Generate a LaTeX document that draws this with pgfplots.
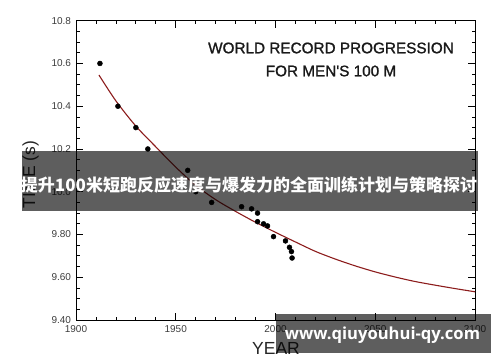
\documentclass[border=0pt]{standalone}
\usepackage{fontspec}
\setmainfont{Liberation Sans}
\newfontfamily\headfont[FakeBold=1.3]{Liberation Sans}
\newfontfamily\cjk{Noto Sans CJK SC}
\newfontfamily\wm{Open Sans}
\usepackage{pgfplots}
\pgfplotsset{compat=1.18}

\definecolor{curvered}{RGB}{140,28,28}
\definecolor{ticklab}{RGB}{60,60,60}

% world record times (year, seconds)
\pgfplotstableread{
year time
1912 10.60
1921 10.40
1930 10.30
1936 10.20
1956 10.10
1960 10.00
1968 9.95
1983 9.93
1988 9.92
1991 9.90
1991 9.86
1994 9.85
1996 9.84
1999 9.79
2005 9.77
2007 9.74
2008 9.72
2008.3 9.69
}\records

% fitted progression curve
\pgfplotstableread{
year time
1911.5 10.546
1920 10.425
1930 10.307
1940 10.210
1950 10.115
1960 10.030
1970 9.963
1980 9.908
1990 9.857
2000 9.810
2010 9.765
2020 9.721
2030 9.685
2040 9.653
2050 9.625
2060 9.601
2070 9.580
2080 9.563
2090 9.547
2100 9.532
}\fit

\begin{document}
\begin{tikzpicture}
\path[use as bounding box] (0,0) rectangle (500pt,362pt);
\begin{axis}[
  at={(76pt,42pt)}, anchor=south west,
  scale only axis, width=399pt, height=299.3pt,
  xmin=1900, xmax=2100, ymin=9.4, ymax=10.8,
  xtick={1900,1950,2000,2050,2100},
  xticklabels={1900,1950,2000,2050,2100},
  minor x tick num=4,
  ytick={9.4,9.6,9.8,10.0,10.2,10.4,10.6,10.8},
  yticklabels={9.40,9.60,9.80,10.0,10.2,10.4,10.6,10.8},
  minor y tick num=3,
  tick align=inside,
  xtick pos=both, ytick pos=both,
  xticklabel pos=lower, yticklabel pos=left,
  major tick length=7pt, minor tick length=3.5pt,
  every tick/.style={black, line width=0.8pt},
  axis line style={black, line width=1pt},
  ticklabel style={font=\fontsize{10}{12}\selectfont, text=ticklab},
  xticklabel style={yshift=-2pt},
  yticklabel style={xshift=-1.5pt},
  clip=false,
]
\addplot[curvered, line width=1.1pt, smooth, no marks] table[x=year, y=time] {\fit};
\addplot[only marks, mark=*, mark size=2.5pt, black] table[x=year, y=time] {\records};
\end{axis}

% axis titles
\node[font=\fontsize{17.5}{20}\selectfont, text=black!85, anchor=base] at (276pt,8pt) {YEAR};
\node[font=\fontsize{17.5}{20}\selectfont, text=black!85, rotate=90] at (30.5pt,187.5pt) {TIME (s)};

% chart heading
\node[align=center, font=\headfont\fontsize{15.3}{23}\selectfont, text=black!90] at (331pt,302.5pt)
  {WORLD RECORD PROGRESSION\\FOR MEN\textquotesingle S 100 M};

% caption band
\fill[black, opacity=0.63] (22pt,151.3pt) rectangle (478pt,211pt);
\node[text=white, font=\cjk\bfseries\fontsize{17}{20}\selectfont] at (249pt,177pt)
  {提升100米短跑反应速度与爆发力的全面训练计划与策略探讨};

% site band
\fill[black, opacity=0.63] (276pt,9.3pt) rectangle (491pt,47.7pt);
\node[text=white, font=\wm\bfseries\fontsize{16.6}{19}\selectfont] at (382.5pt,27pt)
  {www.qiuyouhui-qy.com};
\end{tikzpicture}
\end{document}
